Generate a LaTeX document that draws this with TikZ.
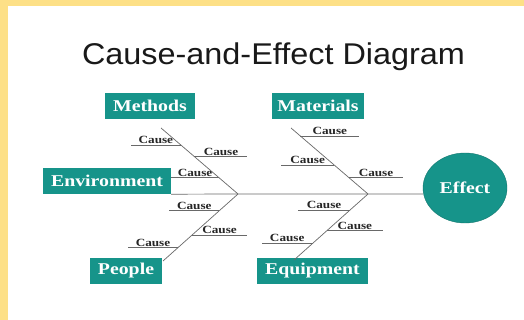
\documentclass[tikz,border=0pt]{standalone}
\usepackage{fontspec}
\setmainfont{Liberation Serif}[FakeStretch=1.2]
\newfontfamily\headfont{Liberation Sans}[FakeStretch=1.08]
\usetikzlibrary{calc,shapes.geometric}

\definecolor{fishteal}{RGB}{22,148,138}
\definecolor{pagebg}{RGB}{253,224,135}
\definecolor{boneline}{RGB}{105,105,105}

\begin{document}
\begin{tikzpicture}[x=1pt, y=1pt,
  cat/.style = {fill=fishteal, text=white, font=\fontsize{16.5}{18}\selectfont\bfseries, inner xsep=8pt, inner ysep=0pt, minimum height=26pt},
  effect/.style = {ellipse, fill=fishteal, draw=fishteal!80!black, text=white, font=\fontsize{16.5}{18}\selectfont\bfseries, minimum width=84pt, minimum height=70pt, inner sep=0pt},
  cause/.style = {above, inner sep=1pt, font=\fontsize{11}{12}\selectfont\bfseries, text=black!85},
  bone/.style = {draw=boneline, line width=0.7pt}]
% frame
\fill[pagebg] (0,0) rectangle (524,-320);
\fill[white] (7.5,-6) rectangle (524,-320);
\useasboundingbox (0,0) rectangle (524,-320);

\node[anchor=base, font=\headfont\fontsize{30}{34}\selectfont, text=black!90] (title) at (273.5,-65) {Cause-and-Effect Diagram};

% categories and effect
\node[cat] (methods) at (150,-106) {Methods};
\node[cat, inner xsep=5pt] (materials) at (318,-106) {Materials};
\node[cat] (environment) at (107,-181) {Environment};
\node[cat] (people) at (126,-271) {People};
\node[cat] (equipment) at (312.5,-271) {Equipment};
\node[effect] (effect) at (465,-188) {Effect};

% spine and bones
\coordinate (headL) at (238,-194);
\coordinate (headR) at (368,-194);
\coordinate (methodsTail) at (161,-128);
\coordinate (materialsTail) at (291,-128);
\coordinate (peopleTail) at (163,-261);
\coordinate (equipmentTail) at (294,-260);
\draw[bone] (environment.south east) -- (headL) -- (headR) -- (headR -| effect.west);
\draw[bone] (methodsTail) -- (headL);
\draw[bone] (peopleTail) -- (headL);
\draw[bone] (materialsTail) -- (headR);
\draw[bone] (equipmentTail) -- (headR);

% causes on methods
\coordinate (m1) at ($(headL)!0.742!(methodsTail)$);
\coordinate (m2) at ($(headL)!0.565!(methodsTail)$);
\coordinate (m3) at ($(headL)!0.247!(methodsTail)$);
\draw[bone] (m1) -- ++(-50,0) node[cause, midway] (m1text) {Cause};
\draw[bone] (m2) -- ++(53,0) node[cause, midway] (m2text) {Cause};
\draw[bone] (m3) -- (m3 -| environment.east) node[cause, midway] (m3text) {Cause};

% causes on people
\coordinate (p1) at ($(headL)!0.249!(peopleTail)$);
\coordinate (p2) at ($(headL)!0.612!(peopleTail)$);
\coordinate (p3) at ($(headL)!0.8!(peopleTail)$);
\draw[bone] (p1) -- ++(-50,0) node[cause, midway] (p1text) {Cause};
\draw[bone] (p2) -- ++(55,0) node[cause, midway] (p2text) {Cause};
\draw[bone] (p3) -- ++(-50,0) node[cause, midway] (p3text) {Cause};

% causes on materials
\coordinate (a1) at ($(headR)!0.879!(materialsTail)$);
\coordinate (a2) at ($(headR)!0.439!(materialsTail)$);
\coordinate (a3) at ($(headR)!0.247!(materialsTail)$);
\draw[bone] (a1) -- ++(59,0) node[cause, midway] (a1text) {Cause};
\draw[bone] (a2) -- ++(-53,0) node[cause, midway] (a2text) {Cause};
\draw[bone] (a3) -- ++(54,0) node[cause, midway] (a3text) {Cause};

% causes on equipment
\coordinate (e1) at ($(headR)!0.242!(equipmentTail)$);
\coordinate (e2) at ($(headR)!0.556!(equipmentTail)$);
\coordinate (e3) at ($(headR)!0.747!(equipmentTail)$);
\draw[bone] (e1) -- ++(-52,0) node[cause, midway] (e1text) {Cause};
\draw[bone] (e2) -- ++(56,0) node[cause, midway] (e2text) {Cause};
\draw[bone] (e3) -- ++(-51,0) node[cause, midway] (e3text) {Cause};
\end{tikzpicture}
\end{document}
